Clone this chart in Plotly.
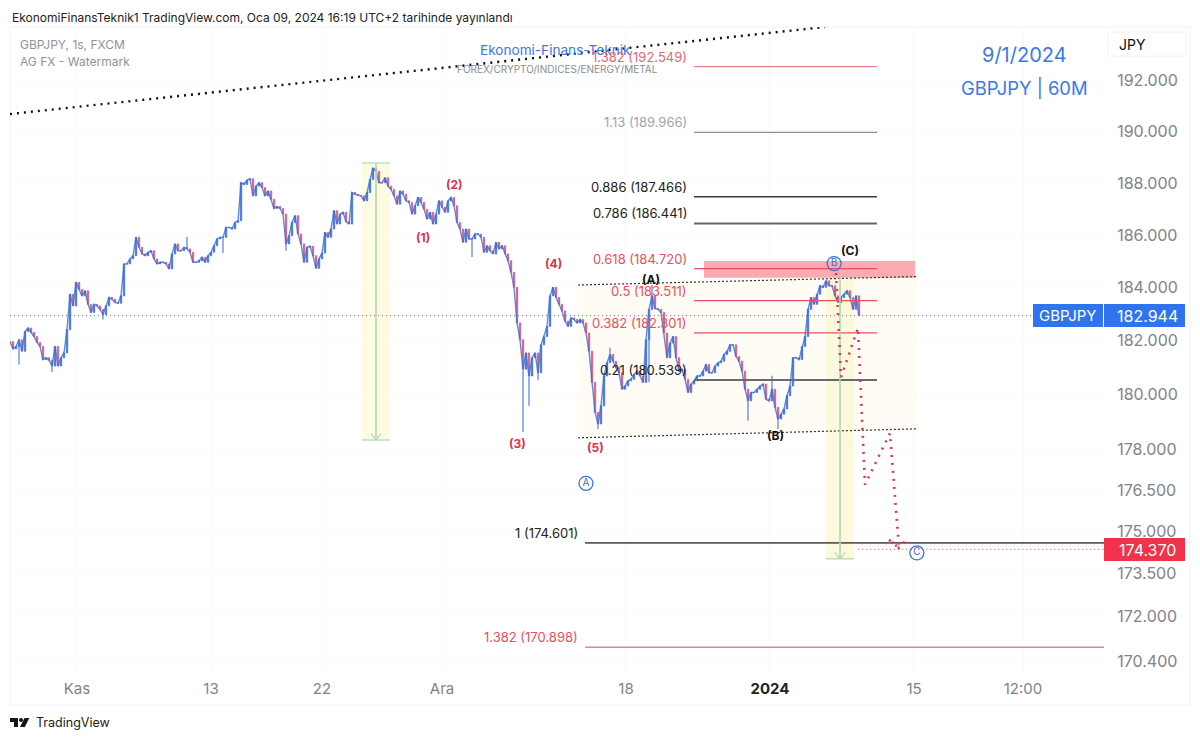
import numpy as np
import plotly.graph_objects as go

# closing prices, one sample every few hours
closes = [181.97, 181.70, 181.79, 182.04, 181.61, 182.35, 182.48, 182.32, 182.16, 181.94,
          181.79, 181.30, 181.37, 181.28, 181.06, 181.79, 181.06, 181.37, 181.55, 182.42,
          183.75, 183.31, 184.20, 183.94, 183.69, 183.88, 183.37, 183.06, 183.37, 183.31,
          183.18, 182.99, 183.31, 183.63, 183.56, 183.44, 183.41, 183.69, 184.90, 184.90,
          185.09, 185.21, 185.91, 185.53, 185.28, 185.21, 185.34, 185.40, 185.09, 184.90,
          184.96, 184.96, 184.90, 184.71, 185.28, 185.66, 185.40, 185.40, 185.53, 185.47,
          185.34, 184.96, 184.96, 185.02, 185.15, 184.96, 185.21, 185.34, 185.59, 185.85,
          185.91, 185.91, 186.29, 186.29, 186.23, 186.48, 186.55, 188.01, 187.94, 188.11,
          188.16, 187.50, 187.88, 188.01, 187.82, 187.50, 187.69, 187.37, 187.02, 187.09,
          187.02, 186.80, 185.66, 185.97, 186.48, 186.74, 186.04, 185.66, 184.96, 185.53,
          185.57, 185.21, 184.73, 185.09, 185.31, 186.10, 185.91, 186.23, 186.93, 186.42,
          186.80, 186.87, 186.51, 186.42, 187.63, 187.56, 187.52, 187.50, 187.31, 187.63,
          188.13, 188.58, 188.45, 188.01, 188.01, 188.20, 187.88, 187.75, 187.50, 187.18,
          187.69, 187.56, 187.31, 187.25, 186.80, 187.12, 187.44, 187.25, 186.99, 186.61,
          186.87, 186.42, 186.80, 187.31, 187.06, 186.87, 187.31, 187.44, 187.12, 186.48,
          186.23, 185.72, 186.23, 185.85, 185.85, 186.04, 186.04, 185.91, 185.34, 185.59,
          185.40, 185.28, 185.72, 185.47, 185.59, 185.28, 185.02, 184.58, 184.01, 182.67,
          182.04, 180.94, 181.55, 180.69, 181.37, 181.55, 180.81, 181.85, 182.16, 182.54,
          183.69, 184.01, 183.63, 183.37, 183.12, 182.74, 182.54, 182.86, 182.80, 182.67,
          182.80, 182.67, 182.29, 181.61, 180.45, 179.35, 178.92, 179.59, 180.69, 181.18,
          181.49, 181.24, 181.00, 180.81, 180.20, 180.32, 180.51, 180.57, 180.75, 180.87,
          180.69, 180.45, 182.04, 183.18, 183.69, 183.21, 183.18, 183.06, 182.29, 181.37,
          181.92, 182.16, 181.37, 180.87, 180.94, 180.57, 180.08, 180.39, 180.51, 180.69,
          180.69, 180.87, 181.12, 180.81, 180.81, 181.06, 181.18, 181.24, 181.49, 181.61,
          181.85, 181.85, 181.42, 181.24, 180.87, 180.20, 179.77, 180.08, 180.08, 180.20,
          180.32, 180.39, 179.83, 179.77, 180.20, 179.53, 179.10, 179.28, 179.47, 179.96,
          180.32, 181.37, 181.37, 181.30, 181.79, 182.16, 183.18, 183.63, 183.37, 183.75,
          184.07, 184.01, 184.26, 184.07, 184.07, 183.69, 183.44, 183.63, 183.75, 183.88,
          183.63, 183.18, 183.69, 182.944]

# long wicks that stick out of the line
wick_bars = [3, 14, 31, 59, 71, 92, 154, 171, 173, 176, 196, 200, 213, 214, 246, 254, 256]
wick_ends = [181.12, 180.84, 182.80, 185.92, 185.31, 185.40, 185.16, 178.62, 179.59, 180.53, 178.73, 181.74, 180.46, 184.10, 179.04, 180.70, 178.73]

# fibonacci levels
fib_ratios = ['1.382', '1.13', '0.886', '0.786', '0.618', '0.5', '0.382', '0.21', '1', '1.382']
fib_prices = [192.549, 189.966, 187.466, 186.441, 184.720, 183.511, 182.301, 180.539, 174.601, 170.898]
fib_labels = ['(192.549)', '(189.966)', '(187.466)', '(186.441)', '(184.720)', '(183.511)', '(182.301)', '(180.539)', '(174.601)', '(170.898)']
fib_line_colors = ['#ee7f87', '#8f8c9e', '#3a3a3a', '#666666', '#e8505f', '#e8505f', '#e8505f', '#6a6a6a', '#5a5a5a', '#ee7f87']
fib_widths = [1.3, 1.3, 1.5, 1.9, 1.3, 1.3, 1.3, 2, 1.7, 1.5]
fib_text_colors = ['#ea6572', '#a3a3ab', '#222222', '#222222', '#e8505f', '#e8505f', '#e8505f', '#222222', '#222222', '#e8505f']
fib_start = [228, 228, 228, 228, 228, 228, 228, 228, 191.7, 191.7]
fib_end = [289, 289, 289, 289, 289, 289, 289, 289, 364.7, 364.7]

# axis ticks
x_tickvals = [22.33, 67, 104, 144, 205.33, 253.33, 301.33, 337.67]
x_ticktext = ['Kas', '13', '22', 'Ara', '18', '<b><span style="color:#222222">2024</span></b>', '15', '12:00']
y_tickvals = [192, 190, 188, 186, 184, 182, 180, 178, 176.5, 175, 173.5, 172, 170.4]
y_ticktext = ['192.000', '190.000', '188.000', '186.000', '184.000', '182.000', '180.000',
              '178.000', '176.500', '175.000', '173.500', '172.000', '170.400']

# wave labels
wave_x = [137.7, 148, 169, 181.3, 195, 213.7, 255.3, 280]
wave_y = [185.90, 187.95, 178.20, 184.90, 178.05, 184.30, 178.50, 185.40]
wave_text = ['(1)', '(2)', '(3)', '(4)', '(5)', '(A)', '(B)', '(C)']
wave_colors = ['#e0314f'] * 5 + ['#111111'] * 3

circle_x = [192, 274.7, 302.3]
circle_y = [176.75, 184.91, 174.24]
circle_text = ['A', 'B', 'C']

# red projected path
path_x = [275.33, 277, 282.67, 285, 293.33, 296.33, 292.67, 296.33, 299]
path_y = [184.55, 180.65, 182.48, 176.70, 178.58, 174.42, 174.74, 174.42, 174.74]

current_price = 182.944
target_price = 174.370

# the page has an 8px body margin, so the figure is a bit smaller than the window
FW, FH = 1184, 725
left, right, top, bottom = 10, 1104, 27, 672


def px(v):
    return (v - 8) / FW


def py(v):
    return 1 - (v - 8) / FH


bars = np.arange(len(closes))
opens = [closes[0]] + closes[:-1]
highs = [max(o, c) for o, c in zip(opens, closes)]
lows = [min(o, c) for o, c in zip(opens, closes)]

fig = go.Figure()

fig.add_trace(go.Candlestick(
    x=bars, open=opens, high=highs, low=lows, close=closes,
    increasing=dict(line=dict(color='#3b6fdc', width=0.7), fillcolor='#3b6fdc'),
    decreasing=dict(line=dict(color='#d4587a', width=0.7), fillcolor='#d4587a'),
    showlegend=False, hoverinfo='skip'))
# at this zoom the bars melt into a line
fig.add_trace(go.Scatter(x=bars, y=closes, mode='lines', line=dict(color='#3b6fdc', width=1.4), opacity=0.8))

# wicks are blue on the chart whatever the bar does
wick_x, wick_y = [], []
for b, v in zip(wick_bars, wick_ends):
    wick_x += [b, b, None]
    wick_y += [closes[b], v, None]
fig.add_trace(go.Scatter(x=wick_x, y=wick_y, mode='lines', line=dict(color='#4f80e0', width=1.2)))

# top trend line and channel
fig.add_trace(go.Scatter(x=[0, 271.67], y=[190.68, 194.12], mode='lines',
                         line=dict(color='#111111', width=2.4, dash='2px,5px')))
fig.add_trace(go.Scatter(x=[189.33, 302.67], y=[184.10, 184.42], mode='lines',
                         line=dict(color='#333333', width=1.2, dash='2px,2px')))
fig.add_trace(go.Scatter(x=[189.33, 302.67], y=[178.41, 178.74], mode='lines',
                         line=dict(color='#333333', width=1.2, dash='2px,2px')))

# fib lines
for i in range(len(fib_prices)):
    fig.add_trace(go.Scatter(x=[fib_start[i], fib_end[i]], y=[fib_prices[i], fib_prices[i]], mode='lines',
                             line=dict(color=fib_line_colors[i], width=fib_widths[i])))

# green arrows of the two projections
for xm, p_top, p_bot, p_wing in [(122, 188.77, 178.33, 178.56), (276.67, 184.37, 174.03, 174.25)]:
    fig.add_trace(go.Scatter(x=[xm, xm], y=[p_top, p_bot], mode='lines', line=dict(color='#aed8b4', width=1.6)))
    fig.add_trace(go.Scatter(x=[xm - 1.7, xm, xm + 1.7], y=[p_wing, p_bot, p_wing], mode='lines',
                             line=dict(color='#aed8b4', width=1.2)))
    fig.add_trace(go.Scatter(x=[xm - 4.7, xm + 4.7], y=[p_bot, p_bot], mode='lines', line=dict(color='#aed8b4', width=1.2)))
fig.add_trace(go.Scatter(x=[117.3, 126.7], y=[188.77, 188.77], mode='lines', line=dict(color='#aed8b4', width=1.2)))

# current price and target
fig.add_trace(go.Scatter(x=[0, 340.7], y=[current_price, current_price], mode='lines',
                         line=dict(color='#3b78e7', width=1, dash='1px,3px')))
fig.add_trace(go.Scatter(x=[282.67, 364.7], y=[target_price, target_price], mode='lines',
                         line=dict(color='#ef5a6c', width=1, dash='1px,3px')))

fig.add_trace(go.Scatter(x=path_x, y=path_y, mode='lines',
                         line=dict(color='#e0355a', width=2.6, dash='2px,6px')))

# circled waves
fig.add_trace(go.Scatter(x=circle_x, y=circle_y, mode='markers+text', text=circle_text,
                         textposition='middle center', textfont=dict(family='Inter', size=10, color='#3b6fdc'),
                         marker=dict(symbol='circle-open', size=14, color='#3b6fdc', line=dict(width=1.3))))

shapes = [
    # projections boxes and the red zone, over the grid but under the candles
    dict(type='path', xref='x', yref='y', layer='between', fillcolor='#fffbf5', line_width=0,
         path='M 189.33 184.10 L 302.67 184.42 L 302.67 178.74 L 189.33 178.41 Z'),
    dict(type='rect', xref='x', yref='y', x0=117.3, x1=126.7, y0=178.33, y1=188.77, fillcolor='#fdfbe1', line_width=0, layer='between'),
    dict(type='rect', xref='x', yref='y', x0=272, x1=281.3, y0=174.03, y1=184.37, fillcolor='#fdf9dc', line_width=0, layer='between'),
    dict(type='rect', xref='x', yref='y', x0=231.33, x1=301.67, y0=184.37, y1=185.01, fillcolor='#fbaab2', line_width=0, layer='between'),
    # outer panel
    dict(type='rect', xref='paper', yref='paper', x0=px(left), x1=px(1190), y0=py(705), y1=py(27),
         line=dict(color='#f1f2f5', width=1), layer='below'),
    # price tags
    dict(type='rect', xref='paper', yref='paper', x0=px(1033), x1=px(1185), y0=py(327), y1=py(304),
         fillcolor='#2f74ee', line_width=0, layer='above'),
    dict(type='line', xref='paper', yref='paper', x0=px(1103.5), x1=px(1103.5), y0=py(327), y1=py(304),
         line=dict(color='#ffffff', width=1), layer='above'),
    dict(type='rect', xref='paper', yref='paper', x0=px(1104), x1=px(1185), y0=py(561), y1=py(538),
         fillcolor='#f0334b', line_width=0, layer='above'),
    # JPY button
    dict(type='rect', xref='paper', yref='paper', x0=px(1108), x1=px(1186), y0=py(56), y1=py(32),
         fillcolor='#ffffff', line=dict(color='#f1f2f5', width=1), layer='below'),
    # TradingView logo
    dict(type='rect', xref='paper', yref='paper', x0=px(10), x1=px(18), y0=py(722), y1=py(718), fillcolor='#131722', line_width=0),
    dict(type='rect', xref='paper', yref='paper', x0=px(14), x1=px(18), y0=py(727), y1=py(722), fillcolor='#131722', line_width=0),
    dict(type='circle', xref='paper', yref='paper', x0=px(19), x1=px(23), y0=py(722), y1=py(718), fillcolor='#131722', line_width=0),
    dict(type='path', xref='paper', yref='paper', fillcolor='#131722', line_width=0,
         path=f'M {px(20)} {py(727)} L {px(24.5)} {py(718)} L {px(29.3)} {py(718)} L {px(24.8)} {py(727)} Z'),
]

annotations = []


def note(text, x, y, size, color, anchor='left', family='Inter'):
    annotations.append(dict(text=text, xref='paper', yref='paper', x=px(x), y=py(y), xanchor=anchor,
                            yanchor='middle', showarrow=False, font=dict(family=family, size=size, color=color)))


note('EkonomiFinansTeknik1 TradingView.com, Oca 09, 2024 16:19 UTC+2 tarihinde yayınlandı', 10, 17.5, 12, '#222222')
note('GBPJPY, 1s, FXCM', 18, 45, 12, '#8f939c')
note('AG FX - Watermark', 18, 62, 12, '#8f939c')
note('Ekonomi-Finans-Teknik', 555.5, 50, 13.6, '#3b78e7', 'center')
note('FOREX/CRYPTO/INDICES/ENERGY/METAL', 557, 69, 10, '#8a8d94', 'center')
note('9/1/2024', 1024, 55, 20, '#3b78e7', 'center')
note('GBPJPY | 60M', 1024, 88, 18.4, '#3b78e7', 'center')
note('JPY', 1117, 44, 14, '#111111')
note('GBPJPY', 1067, 315.5, 15, '#ffffff', 'center')
note('182.944', 1147, 315.5, 16, '#ffffff', 'center')
note('174.370', 1147, 549.5, 16, '#ffffff', 'center')
note('TradingView', 34, 722, 12.5, '#222222')

for i in range(len(fib_prices)):
    annotations.append(dict(text=fib_ratios[i] + ' ' + fib_labels[i], x=fib_start[i] - 1.6, y=np.log10(fib_prices[i]),
                            xref='x', yref='y', xanchor='right', yanchor='middle', yshift=10, showarrow=False,
                            font=dict(family='Inter', size=13, color=fib_text_colors[i])))

for i in range(len(wave_text)):
    annotations.append(dict(text='<b>' + wave_text[i] + '</b>', x=wave_x[i], y=np.log10(wave_y[i]), xref='x', yref='y',
                            showarrow=False, font=dict(family='Inter', size=12, color=wave_colors[i])))

fig.update_layout(
    width=FW, height=FH, margin=dict(l=0, r=0, t=0, b=0),
    paper_bgcolor='#ffffff', plot_bgcolor='#ffffff', showlegend=False, hovermode=False,
    shapes=shapes, annotations=annotations,
    xaxis=dict(domain=[px(left), px(right)], range=[0, (right - left) / 3], rangeslider=dict(visible=False),
               tickvals=x_tickvals, ticktext=x_ticktext, tickfont=dict(family='Inter', size=15, color='#808389'),
               showgrid=True, gridcolor='#f8f9fb', zeroline=False, showline=False, ticks='outside', ticklen=3,
               tickcolor='rgba(0,0,0,0)'),
    yaxis=dict(type='log', domain=[py(bottom), py(top)], range=[np.log10(170.03), np.log10(194.12)],
               side='right', tickvals=y_tickvals, ticktext=y_ticktext, tickfont=dict(family='Inter', size=16, color='#808389'),
               showgrid=True, gridcolor='#fbfbfd', zeroline=False, showline=False, ticks='outside', ticklen=9,
               tickcolor='rgba(0,0,0,0)'),
)

fig.write_html("out.html")
